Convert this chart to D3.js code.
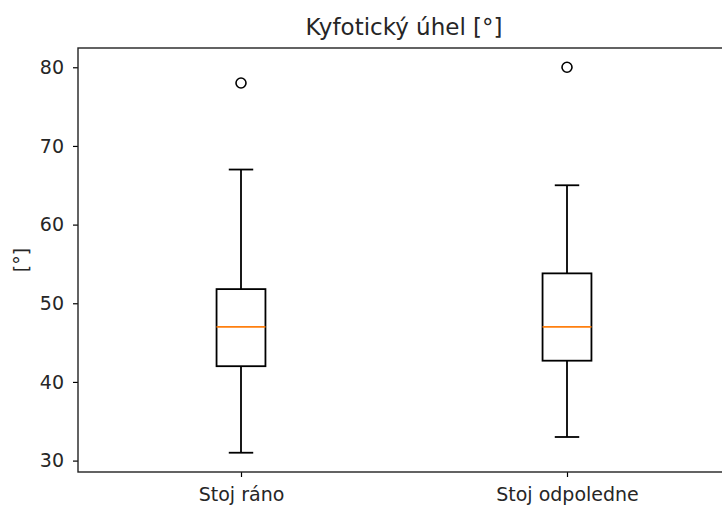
<!DOCTYPE html>
<html>
<head>
<meta charset="utf-8">
<script src="https://cdn.jsdelivr.net/npm/d3@7"></script>
<style>
  body { margin: 0; background: #fff; }
  svg { display: block; }
  text { font-family: "DejaVu Sans", sans-serif; fill: #262626; }
</style>
</head>
<body>
<svg id="chart" width="722" height="506"></svg>
<script>
// Kyphotic angle measured standing, morning vs afternoon
const categories = ["Stoj ráno", "Stoj odpoledne"];
const whiskerLow = [31, 33];
const q1 = [42, 42.7];
const median = [47, 47];
const q3 = [51.8, 53.8];
const whiskerHigh = [67, 65];
const outliers = [[78], [80]];
const yTicks = [30, 40, 50, 60, 70, 80];
const title = "Kyfotický úhel [°]";
const yLabel = "[°]";

const svg = d3.select("#chart");
const margin = { left: 78, top: 48, bottom: 472, right: 730 };

// 5% padding around the data range, as a boxplot axis does
const allVals = whiskerLow.concat(whiskerHigh, outliers.flat());
const lo = d3.min(allVals), hi = d3.max(allVals);
const pad = (hi - lo) * 0.05;

const x = d3.scaleLinear().domain([0.5, 2.5]).range([margin.left, margin.right]);
const y = d3.scaleLinear().domain([lo - pad, hi + pad]).range([margin.bottom, margin.top]);

const boxW = 0.15 * (x(1) - x(0));
const capW = boxW / 2;

const data = categories.map((c, i) => ({
  name: c, pos: i + 1,
  lo: whiskerLow[i], q1: q1[i], med: median[i], q3: q3[i], hi: whiskerHigh[i],
  out: outliers[i]
}));

const g = svg.append("g");

data.forEach(d => {
  const cx = x(d.pos);
  const grp = g.append("g").attr("stroke", "#000").attr("stroke-width", 1.8).attr("fill", "none");
  // whiskers
  grp.append("line").attr("x1", cx).attr("x2", cx).attr("y1", y(d.q1)).attr("y2", y(d.lo));
  grp.append("line").attr("x1", cx).attr("x2", cx).attr("y1", y(d.q3)).attr("y2", y(d.hi));
  // caps
  grp.append("line").attr("x1", cx - capW / 2).attr("x2", cx + capW / 2).attr("y1", y(d.lo)).attr("y2", y(d.lo));
  grp.append("line").attr("x1", cx - capW / 2).attr("x2", cx + capW / 2).attr("y1", y(d.hi)).attr("y2", y(d.hi));
  // box
  grp.append("rect").attr("x", cx - boxW / 2).attr("width", boxW)
    .attr("y", y(d.q3)).attr("height", y(d.q1) - y(d.q3));
  // median
  g.append("line").attr("x1", cx - boxW / 2).attr("x2", cx + boxW / 2)
    .attr("y1", y(d.med)).attr("y2", y(d.med))
    .attr("stroke", "#ff7f0e").attr("stroke-width", 1.8);
  // outliers
  g.selectAll(null).data(d.out).enter().append("circle")
    .attr("cx", cx).attr("cy", v => y(v)).attr("r", 5)
    .attr("fill", "none").attr("stroke", "#000").attr("stroke-width", 1.6);
});

// axes
const yAxis = d3.axisLeft(y).tickValues(yTicks).tickSize(5).tickPadding(9);
const ya = svg.append("g").attr("transform", `translate(${margin.left},0)`).call(yAxis);
ya.select(".domain").remove();
ya.selectAll(".tick line").attr("stroke", "#000").attr("stroke-width", 1.2);
ya.selectAll(".tick text").attr("font-size", 19).attr("font-family", "DejaVu Sans").attr("fill", "#262626");

const xAxis = d3.axisBottom(x).tickValues(data.map(d => d.pos))
  .tickFormat((v, i) => categories[i]).tickSize(5).tickPadding(11);
const xa = svg.append("g").attr("transform", `translate(0,${margin.bottom})`).call(xAxis);
xa.select(".domain").remove();
xa.selectAll(".tick line").attr("stroke", "#000").attr("stroke-width", 1.2);
xa.selectAll(".tick text").attr("font-size", 19).attr("font-family", "DejaVu Sans").attr("fill", "#262626");

// spines
svg.append("rect")
  .attr("x", margin.left).attr("y", margin.top)
  .attr("width", margin.right - margin.left).attr("height", margin.bottom - margin.top)
  .attr("fill", "none").attr("stroke", "#222").attr("stroke-width", 1.4);

// title and y label
svg.append("text").attr("x", (margin.left + margin.right) / 2).attr("y", 34.5)
  .attr("text-anchor", "middle").attr("font-size", 23).text(title);

svg.append("text").attr("transform", `translate(28,${(margin.top + margin.bottom) / 2}) rotate(-90)`)
  .attr("text-anchor", "middle").attr("font-size", 19).text(yLabel);
</script>
</body>
</html>
